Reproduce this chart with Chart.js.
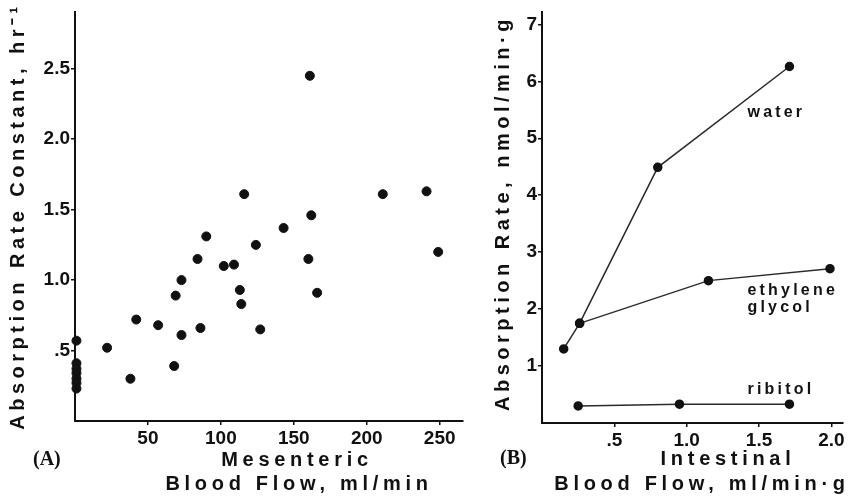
<!DOCTYPE html>
<html>
<head>
<meta charset="utf-8">
<script src="https://cdn.jsdelivr.net/npm/chart.js@4"></script>
<style>
  body { margin: 0; background: #fff; }
  canvas { position: absolute; top: 0; }
  #chartA { left: 0; }
  #chartB { left: 480px; }
</style>
</head>
<body>
<canvas id="chartA" width="480" height="498"></canvas>
<canvas id="chartB" width="372" height="498"></canvas>
<script>
// (A) mesenteric blood flow vs absorption rate constant
const flowA = [1, 1, 1, 1, 1, 1, 1, 22, 38, 42, 57, 68, 69, 73, 73, 84, 86, 90, 102, 109,
               113, 114, 116, 124, 127, 143, 160, 161, 162, 166, 211, 241, 249];
const rateA = [0.57, 0.41, 0.37, 0.34, 0.30, 0.27, 0.23, 0.52, 0.30, 0.72, 0.68, 0.39, 0.89, 0.61, 1.0, 1.15, 0.66, 1.31, 1.10, 1.11,
               0.93, 0.83, 1.61, 1.25, 0.65, 1.37, 1.15, 2.45, 1.46, 0.91, 1.61, 1.63, 1.20];
const xTicksA = [50, 100, 150, 200, 250];
const xLabelsA = ['50', '100', '150', '200', '250'];
const yTicksA = [0.5, 1.0, 1.5, 2.0, 2.5];
const yLabelsA = ['.5', '1.0', '1.5', '2.0', '2.5'];

// (B) intestinal blood flow vs absorption rate
const waterFlow = [0.15, 0.26, 0.80, 1.71];
const waterRate = [1.30, 1.75, 4.49, 6.26];
const glycolFlow = [0.26, 1.15, 1.99];
const glycolRate = [1.75, 2.50, 2.71];
const ribitolFlow = [0.25, 0.95, 1.71];
const ribitolRate = [0.30, 0.33, 0.33];
const xTicksB = [0.5, 1.0, 1.5, 2.0];
const xLabelsB = ['.5', '1.0', '1.5', '2.0'];
const yTicksB = [1, 2, 3, 4, 5, 6, 7];
const yLabelsB = ['1', '2', '3', '4', '5', '6', '7'];

const INK = '#111';
const tickFont = { family: 'Liberation Sans', size: 19, weight: 'bold' };
const titleFont = 'bold 20px "Liberation Sans"';

function pairs(xs, ys) {
    return xs.map((x, i) => ({ x: x, y: ys[i] }));
}

// texte libre : titres d'axes, lettres des panneaux, noms des séries
const panelText = {
    id: 'panelText',
    afterDraw(chart, args, opts) {
        const ctx = chart.ctx;
        opts.items.forEach(t => {
            ctx.save();
            ctx.font = t.font;
            ctx.fillStyle = INK;
            ctx.letterSpacing = (t.spacing || 0) + 'px';
            ctx.textAlign = t.align || 'center';
            ctx.textBaseline = 'middle';
            let x = t.x, y = t.y;
            if (t.dataX !== undefined) {
                x = chart.scales.x.getPixelForValue(t.dataX);
                y = chart.scales.y.getPixelForValue(t.dataY);
            }
            ctx.translate(x, y);
            if (t.rotate) ctx.rotate(t.rotate);
            ctx.fillText(t.text, 0, 0);
            ctx.restore();
        });
    }
};

function axis(min, max, ticks, labels, fitSize, horizontal) {
    return {
        type: 'linear',
        min: min,
        max: max,
        afterBuildTicks: s => { s.ticks = ticks.map(v => ({ value: v })); },
        afterFit: s => { if (horizontal) s.height = fitSize; else s.width = fitSize; },
        ticks: {
            color: INK,
            font: tickFont,
            padding: horizontal ? 2 : 1,
            callback: v => labels[ticks.indexOf(v)]
        },
        grid: { drawOnChartArea: false, tickLength: 4, color: INK, lineWidth: 1.5 },
        border: { color: INK, width: 2 }
    };
}

function baseOptions(padding) {
    return {
        responsive: false,
        animation: false,
        events: [],
        layout: { padding: padding },
        plugins: { legend: { display: false }, tooltip: { enabled: false } }
    };
}

// 1. panneau A
const optsA = baseOptions({ top: 10, right: 17, left: 0, bottom: 0 });
optsA.scales = {
    x: axis(0, 266, xTicksA, xLabelsA, 77, true),
    y: axis(0, 2.9, yTicksA, yLabelsA, 75, false)
};
optsA.plugins.panelText = {
    items: [
        { text: 'Absorption Rate Constant, hr⁻¹', x: 18, y: 216, rotate: -Math.PI / 2, font: titleFont, spacing: 4.5 },
        { text: 'Mesenteric', x: 297, y: 460, font: titleFont, spacing: 4.7 },
        { text: 'Blood Flow, ml/min', x: 299, y: 484, font: titleFont, spacing: 4.7 },
        { text: '(A)', x: 33, y: 460, align: 'left', font: 'bold 20px "Liberation Serif"' }
    ]
};
new Chart(document.getElementById('chartA'), {
    type: 'scatter',
    data: {
        datasets: [{
            data: pairs(flowA, rateA),
            pointRadius: 4.5,
            backgroundColor: INK,
            borderColor: INK,
            clip: false
        }]
    },
    options: optsA,
    plugins: [panelText]
});

// 2. panneau B
function series(xs, ys) {
    return {
        data: pairs(xs, ys),
        showLine: true,
        borderColor: '#2a2a2a',
        borderWidth: 1.5,
        pointRadius: 4,
        pointBackgroundColor: INK,
        pointBorderColor: INK,
        tension: 0,
        clip: false
    };
}
const optsB = baseOptions({ top: 9, right: 9, left: 0, bottom: 0 });
optsB.scales = {
    x: axis(0, 2.08, xTicksB, xLabelsB, 75, true),
    y: axis(0, 7.21, yTicksB, yLabelsB, 62, false)
};
const labelFont = 'bold 16px "Liberation Sans"';
optsB.plugins.panelText = {
    items: [
        { text: 'Absorption Rate, nmol/min·g', x: 23, y: 213, rotate: -Math.PI / 2, font: titleFont, spacing: 4.5 },
        { text: 'Intestinal', x: 248, y: 459, font: titleFont, spacing: 4.7 },
        { text: 'Blood Flow, ml/min·g', x: 222, y: 484, font: titleFont, spacing: 4.7 },
        { text: '(B)', x: 20, y: 459, align: 'left', font: 'bold 20px "Liberation Serif"' },
        { text: 'water', dataX: 1.42, dataY: 5.45, align: 'left', font: labelFont, spacing: 3.2 },
        { text: 'ethylene', dataX: 1.42, dataY: 2.32, align: 'left', font: labelFont, spacing: 3.2 },
        { text: 'glycol', dataX: 1.42, dataY: 2.02, align: 'left', font: labelFont, spacing: 3.2 },
        { text: 'ribitol', dataX: 1.42, dataY: 0.59, align: 'left', font: labelFont, spacing: 3.2 }
    ]
};
new Chart(document.getElementById('chartB'), {
    type: 'scatter',
    data: {
        datasets: [
            series(waterFlow, waterRate),
            series(glycolFlow, glycolRate),
            series(ribitolFlow, ribitolRate)
        ]
    },
    options: optsB,
    plugins: [panelText]
});
</script>
</body>
</html>
